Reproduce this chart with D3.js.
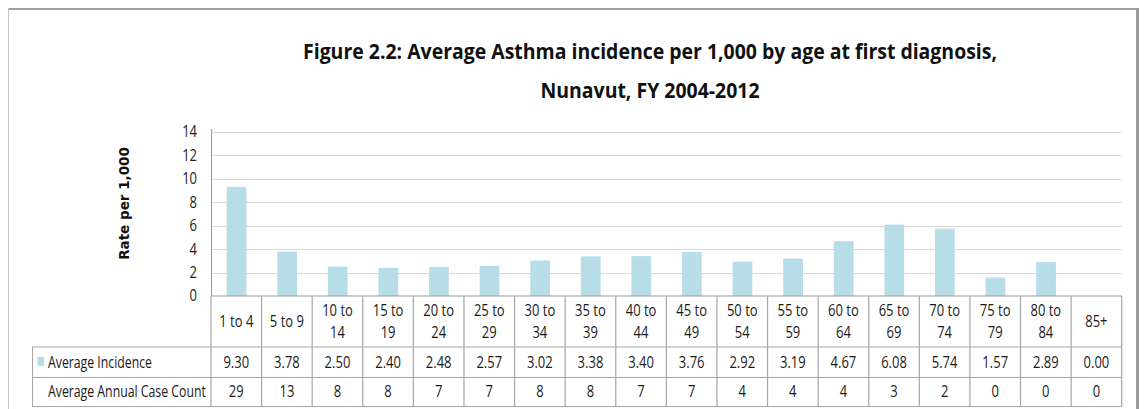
<!DOCTYPE html>
<html><head><meta charset="utf-8">
<script src="https://cdn.jsdelivr.net/npm/d3@7"></script>
<style>html,body{margin:0;padding:0;background:#fff;}svg{display:block;}</style>
</head><body>
<svg id="c" width="1145" height="409"></svg>
<script>
const categories = ["1 to 4","5 to 9","10 to 14","15 to 19","20 to 24","25 to 29","30 to 34","35 to 39","40 to 44","45 to 49","50 to 54","55 to 59","60 to 64","65 to 69","70 to 74","75 to 79","80 to 84","85+"];
const incidence = [9.30,3.78,2.50,2.40,2.48,2.57,3.02,3.38,3.40,3.76,2.92,3.19,4.67,6.08,5.74,1.57,2.89,0.00];
const caseCount = [29,13,8,8,7,7,8,8,7,7,4,4,4,3,2,0,0,0];
const yTicks = [0,2,4,6,8,10,12,14];
const titleLines = ["Figure 2.2: Average Asthma incidence per 1,000 by age at first diagnosis,","Nunavut, FY 2004-2012"];
const seriesNames = ["Average Incidence","Average Annual Case Count"];
const yLabel = "Rate per 1,000";

const F = "'Open Sans',sans-serif";
const svg = d3.select("#c");

function measure(txt, size, weight, fam){
  const t = svg.append("text").attr("font-family",fam).attr("font-size",size).attr("font-weight",weight||"normal").text(txt);
  const w = t.node().getComputedTextLength(); t.remove(); return w;
}
function ctext(parent, x, y, txt, o){
  o = o||{};
  return parent.append("text")
    .attr("transform",`translate(${x},${y}) scale(${o.sx||1},1)`)
    .attr("text-anchor",o.anchor||"start").attr("dy",o.dy||null)
    .attr("font-family",o.fam||F).attr("font-size",o.size).attr("font-weight",o.weight||"normal")
    .attr("fill",o.fill||"#1a1a1a").text(txt);
}

// frame
svg.append("line").attr("x1",8).attr("x2",1139).attr("y1",9).attr("y2",9).attr("stroke","#a0a0a0").attr("stroke-width",2);
svg.append("line").attr("x1",8.5).attr("x2",8.5).attr("y1",8).attr("y2",409).attr("stroke","#c4c4c4").attr("stroke-width",1);
svg.append("line").attr("x1",1137.5).attr("x2",1137.5).attr("y1",8).attr("y2",409).attr("stroke","#9a9a9a").attr("stroke-width",3);

const x = d3.scaleBand().domain(categories).range([211, 1121.7]).padding(0);
const y = d3.scaleLinear().domain([0,14]).range([296, 131.7]);
const bw = x.bandwidth();

// gridlines
svg.append("g").selectAll("line").data(yTicks.filter(d=>d>0)).join("line")
  .attr("x1",211).attr("x2",1121.7).attr("y1",d=>Math.round(y(d))+0.5).attr("y2",d=>Math.round(y(d))+0.5)
  .attr("stroke","#d9d9d9").attr("stroke-width",1.2);

// bars
svg.append("g").selectAll("rect").data(categories).join("rect")
  .attr("x",(c)=>x(c)+bw*0.31).attr("width",bw*0.39)
  .attr("y",(c,i)=>y(incidence[i])).attr("height",(c,i)=>y(0)-y(incidence[i]))
  .attr("fill","#b7dde8");

// table font
const fs = 15.5;
const sx = 0.84;
const hsx = 158/measure(seriesNames[1],fs,"normal",F);

// y axis
const yAxis = d3.axisLeft(y).tickValues(yTicks).tickSize(0).tickPadding(14).tickFormat(d3.format("d"));
const ga = svg.append("g").attr("transform","translate(211,0)").call(yAxis);
ga.select(".domain").remove();
ga.selectAll(".tick text").attr("font-family",F).attr("font-size",fs).attr("fill","#222")
  .attr("transform",`translate(-14,0) scale(${sx},1) translate(14,0)`);
svg.append("line").attr("x1",211.5).attr("x2",211.5).attr("y1",129).attr("y2",296).attr("stroke","#999");

// y label
svg.append("text").attr("transform","translate(129,203.5) rotate(-90)").attr("text-anchor","middle")
  .attr("font-family","'DejaVu Sans',Verdana,sans-serif").attr("font-weight","bold").attr("font-size",13.5)
  .attr("fill","#111").text(yLabel);

// title
const tSize = 21.5;
const tW = measure(titleLines[0],tSize,"bold",F);
const tsx = 694/tW;
const tg0 = svg.append("g");
titleLines.forEach((d,i)=>ctext(tg0, 650, 59+i*39, d, {anchor:"middle", size:tSize, weight:"bold", sx:tsx, fill:"#111"}));

// table
const rows = {top:296, r1:347, r2:377.5, bot:406.5};
const tg = svg.append("g");
const bc = "#a6a6a6";
tg.append("line").attr("x1",211).attr("x2",1121.7).attr("y1",rows.top).attr("y2",rows.top).attr("stroke","#999").attr("stroke-width",1.2);
[rows.r1, rows.r2, rows.bot].forEach(v=>{
  tg.append("line").attr("x1",32).attr("x2",1121.7).attr("y1",v).attr("y2",v).attr("stroke",bc).attr("stroke-width",1.2);
});
tg.append("line").attr("x1",32.5).attr("x2",32.5).attr("y1",rows.r1).attr("y2",rows.bot).attr("stroke",bc);
tg.selectAll("line.v").data(categories).join("line").attr("class","v")
  .attr("x1",c=>x(c)).attr("x2",c=>x(c)).attr("y1",rows.top).attr("y2",rows.bot).attr("stroke",bc).attr("stroke-width",1.2);
tg.append("line").attr("x1",1121.7).attr("x2",1121.7).attr("y1",rows.top).attr("y2",rows.bot).attr("stroke",bc).attr("stroke-width",1.2);

function catLines(c){ if(c==="1 to 4"||c==="5 to 9"||c==="85+") return [c]; const p=c.split(" to "); return [p[0]+" to", p[1]]; }
const opt = {anchor:"middle", size:fs, sx:sx, dy:"0.35em"};
categories.forEach(c=>{
  const ls = catLines(c);
  const cy = (rows.top+rows.r1)/2 + 0.5;
  ls.forEach((l,j)=>{
    const yy = ls.length===1 ? cy : cy + (j===0?-11:11);
    ctext(tg, x(c)+bw/2, yy, l, opt);
  });
});
categories.forEach((c,i)=>{
  ctext(tg, x(c)+bw/2, (rows.r1+rows.r2)/2, incidence[i].toFixed(2), opt);
  ctext(tg, x(c)+bw/2, (rows.r2+rows.bot)/2, String(caseCount[i]), opt);
});
tg.append("rect").attr("x",37.5).attr("y",357).attr("width",6.5).attr("height",9).attr("fill","#b7dde8");
ctext(tg, 48, (rows.r1+rows.r2)/2, seriesNames[0], {size:fs, sx:hsx, dy:"0.35em"});
ctext(tg, 48, (rows.r2+rows.bot)/2, seriesNames[1], {size:fs, sx:hsx, dy:"0.35em"});
</script>
</body></html>
